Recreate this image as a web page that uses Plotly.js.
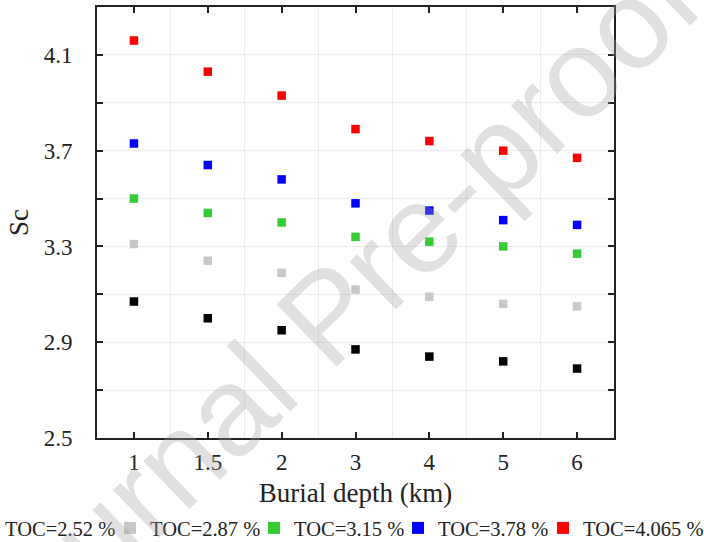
<!DOCTYPE html>
<html>
<head>
<meta charset="utf-8">
<script src="https://cdn.plot.ly/plotly-3.0.1.min.js"></script>
<style>html,body{margin:0;padding:0;background:#fff;}#chart{width:704px;height:542px;}</style>
</head>
<body>
<div id="chart"></div>
<script>
var depths = ["1", "1.5", "2", "3", "4", "5", "6"];
var seriesNames = ["TOC=2.52 %", "TOC=2.87 %", "TOC=3.15 %", "TOC=3.78 %", "TOC=4.065 %"];
var toc252 = [3.07, 3.00, 2.95, 2.87, 2.84, 2.82, 2.79];
var toc287 = [3.31, 3.24, 3.19, 3.12, 3.09, 3.06, 3.05];
var toc315 = [3.50, 3.44, 3.40, 3.34, 3.32, 3.30, 3.27];
var toc378 = [3.73, 3.64, 3.58, 3.48, 3.45, 3.41, 3.39];
var toc4065 = [4.16, 4.03, 3.93, 3.79, 3.74, 3.70, 3.67];
var yTickVals = [2.5, 2.9, 3.3, 3.7, 4.1];
var yTickText = ["2.5", "2.9", "3.3", "3.7", "4.1"];
var yMinorVals = [2.7, 3.1, 3.5, 3.9, 4.3];

var colors = ["#000000", "#c8c8c8", "#33cc33", "#0000ff", "#ff0000"];
var legendX = [-0.2553, 0.0252, 0.3037, 0.5822, 0.8627];
var allSeries = [toc252, toc287, toc315, toc378, toc4065];
var xIdx = depths.map(function(d, i){ return i; });
var xBounds = depths.slice(1).map(function(d, i){ return i + 0.5; });

function legendId(k){ return k === 0 ? 'legend' : 'legend' + (k + 1); }

var traces = allSeries.map(function(vals, k){
  return {
    x: xIdx, y: vals, type: 'scatter', mode: 'markers', name: seriesNames[k],
    legend: legendId(k),
    marker: {symbol: 'square', size: 8.5, color: colors[k], line: {width: 0}},
    cliponaxis: false
  };
});

var serif = "Liberation Serif, Times New Roman, serif";

var layout = {
  width: 704, height: 542,
  margin: {l: 97, r: 90, t: 7, b: 104, pad: 0, autoexpand: false},
  paper_bgcolor: '#fff', plot_bgcolor: '#fff',
  font: {family: serif, color: '#222'},
  showlegend: true,
  xaxis: {
    range: [-0.5, 6.5], tickmode: 'array', tickvals: xIdx, ticktext: depths,
    showgrid: false, zeroline: false,
    showline: true, linecolor: '#222', linewidth: 2, mirror: 'ticks',
    ticks: 'inside', ticklen: 6, tickwidth: 2, tickcolor: '#222',
    tickfont: {family: serif, size: 23, color: '#222'}, ticklabelstandoff: 2,
    minor: {tickmode: 'array', tickvals: xBounds, ticks: '', showgrid: true, gridcolor: '#ececec', gridwidth: 1},
    title: {text: 'Burial depth (km)', font: {family: serif, size: 27, color: '#222'}, standoff: 10}
  },
  yaxis: {
    range: [2.5, 4.3], tickmode: 'array', tickvals: yTickVals, ticktext: yTickText,
    showgrid: true, gridcolor: '#ececec', gridwidth: 1, zeroline: false,
    showline: true, linecolor: '#222', linewidth: 2, mirror: 'ticks',
    ticks: 'inside', ticklen: 6, tickwidth: 2, tickcolor: '#222',
    tickfont: {family: serif, size: 23, color: '#222'}, ticklabelstandoff: 18,
    minor: {tickmode: 'array', tickvals: yMinorVals, ticks: 'inside', ticklen: 6, tickwidth: 2, tickcolor: '#222',
            showgrid: true, gridcolor: '#ececec', gridwidth: 1},
    title: {text: 'Sc', font: {family: serif, size: 27, color: '#222'}, standoff: 7}
  },
  annotations: [{
    text: 'Journal Pre-proof', xref: 'paper', yref: 'paper', x: 0.445, y: 0.284,
    xanchor: 'center', yanchor: 'middle', showarrow: false, textangle: -44,
    font: {family: 'Liberation Sans, Arial, sans-serif', size: 126, color: 'rgba(160,160,160,0.33)'}
  }]
};

legendX.forEach(function(lx, k){
  layout[legendId(k)] = {
    orientation: 'h', x: lx, xanchor: 'left', y: -0.209, yanchor: 'middle',
    font: {family: serif, size: 20.5, color: '#222'}, itemsizing: 'constant',
    bgcolor: 'rgba(0,0,0,0)', borderwidth: 0
  };
});

Plotly.newPlot('chart', traces, layout, {displayModeBar: false, staticPlot: true});
</script>
</body>
</html>
